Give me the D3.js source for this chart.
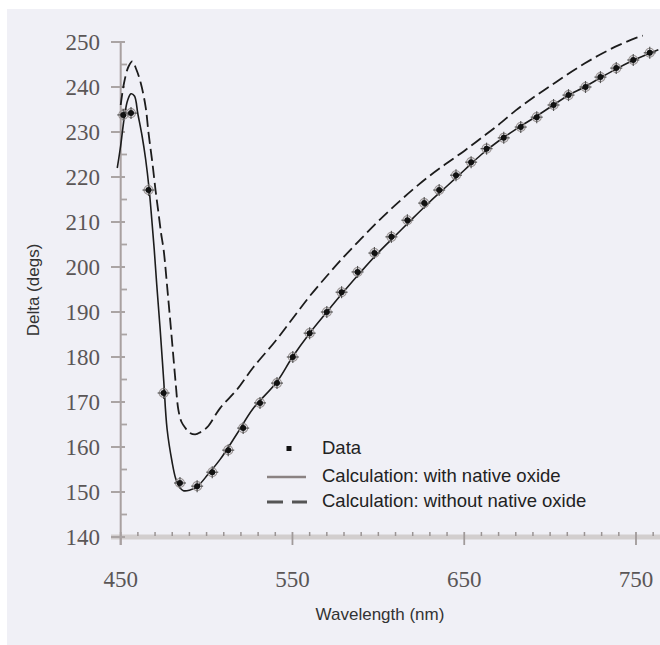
<!DOCTYPE html>
<html><head><meta charset="utf-8">
<script src="https://cdn.jsdelivr.net/npm/d3@7"></script>
<style>html,body{margin:0;padding:0;background:#fff;}svg{display:block;}</style>
</head><body>
<svg id="chart" width="660" height="645"></svg>
<script>
// ---- data ----
const dataWavelength = [451.5, 456, 466.2, 475, 484.5, 494.5, 503.3, 512.6, 521.3, 531.1, 541, 550.2, 560, 570, 578.6, 587.9, 597.7, 607.6, 616.9, 626.7, 635.4, 645.2, 654, 663, 673, 682.9, 692.2, 702, 710.7, 720.6, 729.3, 738.5, 748.4, 758];
const dataDelta = [233.8, 234.2, 217.1, 172, 152, 151.3, 154.4, 159.3, 164.2, 169.8, 174.2, 180, 185.3, 190, 194.4, 198.9, 203.1, 206.7, 210.4, 214.2, 217.1, 220.4, 223.3, 226.3, 228.7, 231.1, 233.3, 236, 238.2, 240, 242.2, 244.2, 246, 247.6];

const withOxideWavelength = [448, 450, 452, 454, 456, 458, 460, 462.5, 464.5, 466.5, 468, 469.5, 471, 473, 475, 477, 480, 482, 484, 486.5, 490, 494.5, 501, 508, 517.8, 527, 541, 550, 560, 570, 580, 590, 600, 610, 620, 630, 640, 650, 660, 670, 680, 690, 700, 710, 720, 730, 740, 750, 763];
const withOxideDelta = [222, 227, 233, 237, 238.5, 238, 234, 229, 224, 217.5, 211, 204, 196, 186, 175, 164, 156.5, 153, 151.2, 150.3, 150.4, 151.2, 154, 157.3, 163, 168.5, 174.5, 180, 185.3, 190, 194.6, 199, 203.2, 207, 210.8, 214.5, 218, 221.5, 225, 228, 230.6, 233, 235.5, 238, 240, 242.2, 244.3, 246.2, 248.3];

const withoutOxideWavelength = [450, 452, 454.5, 456.8, 459, 461.6, 464.5, 466.2, 468.5, 470.3, 472, 473.5, 475, 477.2, 480, 482, 483.6, 485.5, 487.7, 490, 493.4, 496.5, 500.4, 508, 517.8, 527, 540, 550, 560, 570, 580, 590, 600, 610, 620, 630, 640, 650, 660, 670, 680, 690, 700, 710, 720, 730, 740, 750, 754];
const withoutOxideDelta = [236, 241, 244.5, 245.7, 244, 241, 235.6, 229.8, 223, 217, 212, 207.5, 203.8, 195, 183, 174.2, 168.2, 165.5, 164.2, 163.2, 162.8, 163.3, 164.4, 168.7, 172.8, 177.6, 183.5, 188.5, 193.5, 198, 202.3, 206.3, 210.2, 213.8, 217.2, 220.3, 223.1, 225.8, 228.7, 231.6, 234.8, 237.6, 240.2, 242.8, 245.2, 247.4, 249.3, 250.9, 251.4];

const xTickValues = [450, 550, 650, 750];
const yTickValues = [140, 150, 160, 170, 180, 190, 200, 210, 220, 230, 240, 250];
const legendLabels = ["Data", "Calculation: with native oxide", "Calculation: without native oxide"];
const xTitle = "Wavelength (nm)";
const yTitle = "Delta (degs)";

// ---- drawing ----
const svg = d3.select("#chart");
svg.append("rect").attr("x", 7).attr("y", 9).attr("width", 653).attr("height", 636).attr("fill", "#f0f0f6");

const x = d3.scaleLinear().domain([450, 750]).range([120.7, 636]);
const y = d3.scaleLinear().domain([140, 250]).range([537, 42]);

// x axis band
svg.append("line").attr("x1", 111).attr("x2", 660).attr("y1", y(140)).attr("y2", y(140))
  .attr("stroke", "#d2cece").attr("stroke-width", 5);
// x minor ticks
const xMinor = d3.range(460, 765, 10).filter(v => !xTickValues.includes(v));
svg.append("g").selectAll("line").data(xMinor).join("line")
  .attr("x1", d => x(d)).attr("x2", d => x(d)).attr("y1", y(140) - 5).attr("y2", y(140) - 1)
  .attr("stroke", "#9a9494").attr("stroke-width", 1.5);
// x major ticks
svg.append("g").selectAll("line").data(xTickValues).join("line")
  .attr("x1", d => x(d)).attr("x2", d => x(d)).attr("y1", y(140) - 5).attr("y2", y(140) + 8)
  .attr("stroke", "#a09a9a").attr("stroke-width", 1.8);
// x labels
svg.append("g").selectAll("text").data(xTickValues).join("text")
  .attr("x", d => x(d)).attr("y", 587).attr("text-anchor", "middle")
  .attr("font-family", "Liberation Serif, Times New Roman, serif").attr("font-size", 23)
  .attr("fill", "#5a5656").text(d => d);

// y axis line
svg.append("line").attr("x1", x(450)).attr("x2", x(450)).attr("y1", y(250)).attr("y2", y(140) + 8)
  .attr("stroke", "#a8a0a0").attr("stroke-width", 2);
// y major ticks
svg.append("g").selectAll("line").data(yTickValues).join("line")
  .attr("x1", 111).attr("x2", 125).attr("y1", d => y(d)).attr("y2", d => y(d))
  .attr("stroke", "#aaa4a4").attr("stroke-width", 2);
// y minor ticks
const yMinor = d3.range(145, 250, 10);
svg.append("g").selectAll("line").data(yMinor).join("line")
  .attr("x1", 120).attr("x2", 127).attr("y1", d => y(d)).attr("y2", d => y(d))
  .attr("stroke", "#aaa4a4").attr("stroke-width", 1.8);
// y labels
svg.append("g").selectAll("text").data(yTickValues).join("text")
  .attr("x", 100).attr("y", d => y(d) + 8).attr("text-anchor", "end")
  .attr("font-family", "Liberation Serif, Times New Roman, serif").attr("font-size", 23)
  .attr("fill", "#5a5656").text(d => d);

// titles
svg.append("text").attr("x", 380).attr("y", 620).attr("text-anchor", "middle")
  .attr("font-family", "Liberation Sans, Arial, sans-serif").attr("font-size", 17).attr("fill", "#333")
  .text(xTitle);
svg.append("text").attr("transform", "translate(39,290) rotate(-90)").attr("text-anchor", "middle")
  .attr("font-family", "Liberation Sans, Arial, sans-serif").attr("font-size", 17).attr("fill", "#333")
  .text(yTitle);

// curves
const line = d3.line().x(d => x(d[0])).y(d => y(d[1])).curve(d3.curveCatmullRom.alpha(0.5));
const solidPts = withOxideWavelength.map((w, i) => [w, withOxideDelta[i]]);
const dashPts = withoutOxideWavelength.map((w, i) => [w, withoutOxideDelta[i]]);
svg.append("path").attr("d", line(dashPts)).attr("fill", "none").attr("stroke", "#1c1c1c")
  .attr("stroke-width", 1.8).attr("stroke-dasharray", "12,5");
svg.append("path").attr("d", line(solidPts)).attr("fill", "none").attr("stroke", "#1c1c1c")
  .attr("stroke-width", 1.6);

// data markers
const pts = dataWavelength.map((w, i) => [w, dataDelta[i]]);
const mk = svg.append("g").selectAll("g").data(pts).join("g")
  .attr("transform", d => `translate(${x(d[0])},${y(d[1])})`);
mk.append("circle").attr("r", 4.5).attr("fill", "none").attr("stroke", "#9a9494").attr("stroke-width", 1.1);
mk.append("line").attr("x1", -6).attr("x2", 6).attr("stroke", "#555").attr("stroke-width", 1.2);
mk.append("line").attr("y1", -6).attr("y2", 6).attr("stroke", "#555").attr("stroke-width", 1.2);
mk.append("circle").attr("r", 3).attr("fill", "#111");

// legend
const lg = svg.append("g").attr("font-family", "Liberation Sans, Arial, sans-serif").attr("font-size", 18.5).attr("fill", "#222");
lg.append("rect").attr("x", 286.5).attr("y", 446).attr("width", 5).attr("height", 5).attr("fill", "#111");
lg.append("line").attr("x1", 267).attr("x2", 306).attr("y1", 477).attr("y2", 477).attr("stroke", "#8a8282").attr("stroke-width", 2.5);
lg.append("line").attr("x1", 267).attr("x2", 307).attr("y1", 502).attr("y2", 502).attr("stroke", "#555").attr("stroke-width", 3).attr("stroke-dasharray", "16,9");
const ly = [447, 475, 500];
lg.selectAll("text").data(legendLabels).join("text")
  .attr("x", 322).attr("y", (d, i) => ly[i] + 6.5).text(d => d);
</script>
</body></html>
